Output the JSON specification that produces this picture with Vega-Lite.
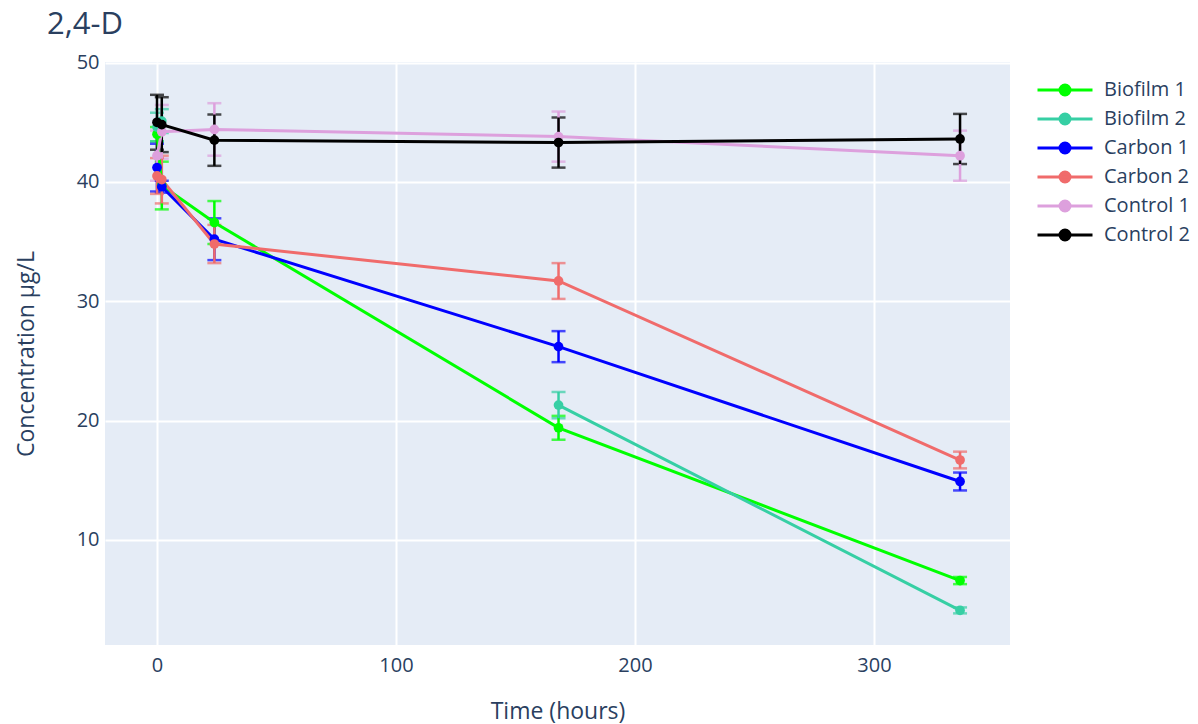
{
  "$schema": "https://vega.github.io/schema/vega-lite/v6.json",
  "width": 905,
  "height": 583,
  "autosize": {"type": "none"},
  "padding": {"left": 105, "top": 62, "right": 188, "bottom": 79},
  "background": "white",
  "title": {"text": "2,4-D", "anchor": "start", "dx": -58, "offset": 12, "fontSize": 31, "font": "Open Sans", "fontWeight": "normal", "color": "#2a3f5f", "frame": "group"},
  "config": {
    "view": {"fill": "#E5ECF6", "stroke": null},
    "font": "Open Sans",
    "axis": {"domain": false, "ticks": false, "gridColor": "white", "gridWidth": 2, "labelFont": "Open Sans", "labelFontSize": 20, "labelColor": "#2a3f5f", "titleFont": "Open Sans", "titleFontSize": 23, "titleFontWeight": "normal", "titleColor": "#2a3f5f"}
  },
  "data": {
    "values": [
      {"s": "Biofilm 1", "t": 0, "c": 44.0, "e": 0.6},
      {"s": "Biofilm 1", "t": 2, "c": 39.7, "e": 2.0},
      {"s": "Biofilm 1", "t": 24, "c": 36.6, "e": 1.8},
      {"s": "Biofilm 1", "t": 168, "c": 19.4, "e": 1.0},
      {"s": "Biofilm 1", "t": 336, "c": 6.6, "e": 0.3},
      {"s": "Biofilm 2", "t": 0, "c": 44.6, "e": 1.2},
      {"s": "Biofilm 2", "t": 2, "c": 45.1, "e": 1.0},
      {"s": "Biofilm 2", "t": 24, "c": null, "e": null},
      {"s": "Biofilm 2", "t": 168, "c": 21.3, "e": 1.1},
      {"s": "Biofilm 2", "t": 336, "c": 4.1, "e": 0.25},
      {"s": "Carbon 1", "t": 0, "c": 41.2, "e": 2.0},
      {"s": "Carbon 1", "t": 2, "c": 39.6, "e": 0.5},
      {"s": "Carbon 1", "t": 24, "c": 35.2, "e": 1.75},
      {"s": "Carbon 1", "t": 168, "c": 26.2, "e": 1.3},
      {"s": "Carbon 1", "t": 336, "c": 14.9, "e": 0.75},
      {"s": "Carbon 2", "t": 0, "c": 40.5, "e": 1.5},
      {"s": "Carbon 2", "t": 2, "c": 40.2, "e": 2.0},
      {"s": "Carbon 2", "t": 24, "c": 34.8, "e": 1.6},
      {"s": "Carbon 2", "t": 168, "c": 31.7, "e": 1.5},
      {"s": "Carbon 2", "t": 336, "c": 16.7, "e": 0.7},
      {"s": "Control 1", "t": 0, "c": 42.2, "e": 2.1},
      {"s": "Control 1", "t": 2, "c": 44.2, "e": 2.25},
      {"s": "Control 1", "t": 24, "c": 44.4, "e": 2.2},
      {"s": "Control 1", "t": 168, "c": 43.8, "e": 2.1},
      {"s": "Control 1", "t": 336, "c": 42.2, "e": 2.1},
      {"s": "Control 2", "t": 0, "c": 45.0, "e": 2.3},
      {"s": "Control 2", "t": 2, "c": 44.8, "e": 2.3},
      {"s": "Control 2", "t": 24, "c": 43.5, "e": 2.15},
      {"s": "Control 2", "t": 168, "c": 43.3, "e": 2.1},
      {"s": "Control 2", "t": 336, "c": 43.6, "e": 2.1}
    ]
  },
  "encoding": {
    "x": {"field": "t", "type": "quantitative", "scale": {"domain": [-21.76, 356.9], "nice": false, "zero": false}, "axis": {"values": [0, 100, 200, 300], "labelPadding": 10, "titlePadding": 25, "title": "Time (hours)"}},
    "color": {"field": "s", "type": "nominal", "scale": {"domain": ["Biofilm 1", "Biofilm 2", "Carbon 1", "Carbon 2", "Control 1", "Control 2"], "range": ["#00FF00", "#36CFA4", "#0000FF", "#F06B6B", "#DDA0DD", "#000000"]}}
  },
  "layer": [
    {
      "transform": [{"filter": "isValid(datum.c)"}],
      "mark": {"type": "errorbar", "thickness": 2.5, "ticks": {"size": 14, "thickness": 2.5}},
      "encoding": {
        "y": {"field": "c", "type": "quantitative", "scale": {"domain": [1.2, 50.05], "nice": false, "zero": false}, "axis": {"values": [10, 20, 30, 40, 50], "labelPadding": 6, "titlePadding": 38, "title": "Concentration µg/L"}},
        "yError": {"field": "e"}
      }
    },
    {
      "mark": {"type": "line", "strokeWidth": 3, "invalid": "break-paths-show-domains"},
      "encoding": {
        "y": {"field": "c", "type": "quantitative"},
        "color": {"field": "s", "type": "nominal", "legend": {"orient": "none", "legendX": 950, "legendY": 18, "title": null, "padding": 0, "symbolType": "M-5.5,0H5.5M-1,0A1,1,0,1,0,1,0A1,1,0,1,0,-1,0Z", "symbolSize": 100, "symbolStrokeWidth": 3, "labelFontSize": 20, "labelFont": "Open Sans", "labelColor": "#2a3f5f", "labelOffset": 29, "rowPadding": 7, "encode": {"symbols": {"update": {"fill": {"scale": "color", "field": "value"}}}}}}
      }
    },
    {
      "transform": [{"filter": "isValid(datum.c)"}],
      "mark": {"type": "point", "filled": true, "size": 95, "opacity": 1},
      "encoding": {
        "y": {"field": "c", "type": "quantitative"}
      }
    }
  ]
}
